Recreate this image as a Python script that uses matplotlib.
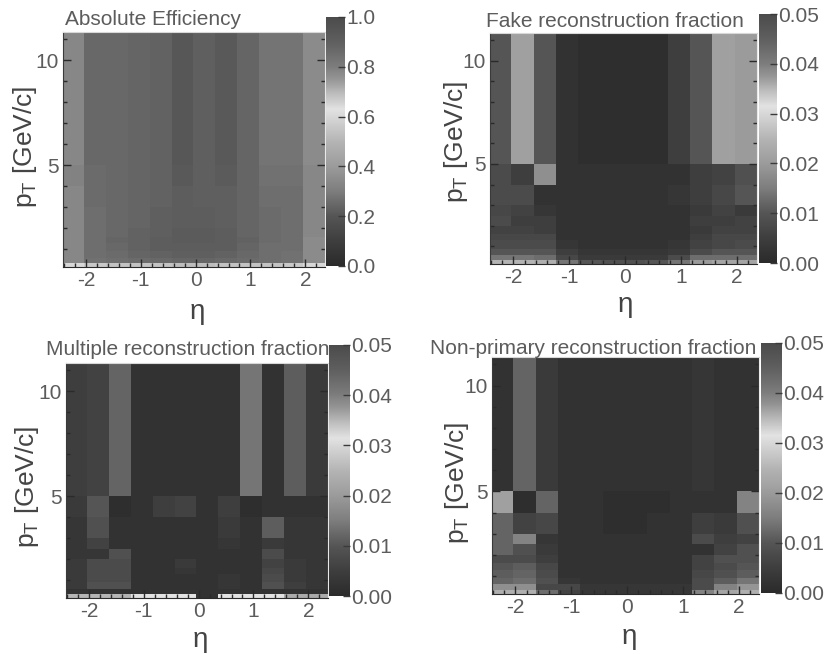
import numpy as np
import matplotlib
matplotlib.use("Agg")
import matplotlib.pyplot as plt
from matplotlib.colors import LinearSegmentedColormap
from matplotlib.ticker import MultipleLocator

plt.rcParams["font.family"] = ["Liberation Sans", "DejaVu Sans"]
plt.rcParams["mathtext.fontset"] = "custom"
plt.rcParams["mathtext.rm"] = "Liberation Sans"
plt.rcParams["mathtext.default"] = "regular"
plt.rcParams["axes.unicode_minus"] = False

W, H = 828, 654
TXT = "#5c5c5c"

# bin edges, pT runs from the top row downwards
eta_edges = [-2.44 + 0.4 * i for i in range(13)]
pt_edges = [11.35, 5, 4, 3, 2.5, 2, 1.6, 1.3, 0.9, 0.6, 0.35, 0.15]

eff = [
    [.78, .87, .87, .88, .89, .94, .90, .93, .88, .83, .83, .77],
    [.79, .86, .87, .88, .89, .93, .90, .92, .88, .84, .84, .78],
    [.78, .86, .87, .88, .89, .91, .90, .90, .88, .85, .85, .78],
    [.78, .85, .87, .88, .90, .91, .91, .90, .88, .86, .85, .78],
    [.78, .85, .87, .88, .90, .91, .91, .90, .88, .86, .85, .78],
    [.78, .85, .87, .89, .90, .92, .92, .91, .88, .86, .85, .78],
    [.78, .85, .88, .89, .91, .92, .92, .91, .89, .86, .85, .77],
    [.78, .85, .87, .89, .91, .91, .91, .91, .88, .85, .85, .77],
    [.78, .85, .86, .88, .89, .90, .90, .89, .87, .85, .84, .77],
    [.78, .84, .85, .86, .87, .88, .88, .87, .86, .85, .84, .77],
    [.60, .67, .68, .68, .68, .69, .69, .68, .68, .68, .67, .60],
]
fake = [
    [.010, .021, .010, .002, .001, .001, .001, .001, .005, .010, .021, .020],
    [.008, .005, .018, .002, .002, .002, .002, .002, .002, .005, .006, .009],
    [.008, .008, .002, .002, .002, .002, .002, .002, .003, .005, .007, .010],
    [.007, .006, .003, .002, .002, .002, .002, .002, .002, .004, .006, .004],
    [.008, .005, .005, .002, .002, .002, .002, .002, .002, .005, .005, .006],
    [.006, .006, .005, .002, .002, .002, .002, .002, .002, .004, .006, .006],
    [.007, .007, .007, .002, .002, .002, .002, .002, .002, .005, .007, .007],
    [.008, .008, .008, .003, .002, .002, .002, .002, .003, .006, .007, .008],
    [.010, .010, .010, .005, .003, .003, .003, .003, .004, .008, .010, .010],
    [.014, .014, .013, .007, .004, .004, .004, .004, .008, .013, .013, .013],
    [.025, .025, .024, .014, .010, .009, .009, .010, .014, .020, .022, .022],
]
multi = [
    [.005, .006, .012, .002, .002, .002, .002, .002, .014, .002, .011, .004],
    [.004, .010, .001, .002, .005, .006, .002, .005, .001, .002, .002, .002],
    [.003, .009, .002, .002, .002, .002, .002, .004, .002, .011, .003, .003],
    [.003, .006, .002, .002, .002, .002, .002, .003, .002, .004, .003, .003],
    [.003, .003, .009, .002, .002, .002, .002, .002, .002, .008, .003, .003],
    [.004, .008, .008, .002, .002, .004, .002, .002, .002, .006, .004, .003],
    [.004, .008, .008, .002, .002, .003, .002, .002, .002, .007, .004, .003],
    [.004, .008, .008, .002, .002, .002, .002, .003, .002, .008, .004, .003],
    [.004, .009, .009, .002, .002, .002, .002, .003, .002, .009, .005, .003],
    [.002, .002, .002, .002, .002, .002, .002, .002, .002, .002, .002, .002],
    [.025, .025, .025, .0315, .0315, .0315, .002, .0315, .0315, .0315, .023, .023],
]
nonprim = [
    [.002, .012, .004, .002, .002, .002, .002, .002, .002, .003, .002, .002],
    [.021, .001, .012, .002, .002, .001, .001, .001, .002, .002, .002, .016],
    [.012, .006, .007, .002, .002, .001, .001, .002, .002, .005, .004, .009],
    [.012, .016, .003, .002, .002, .002, .002, .002, .002, .008, .005, .006],
    [.012, .009, .004, .002, .002, .002, .002, .002, .002, .002, .006, .009],
    [.008, .008, .005, .002, .002, .002, .002, .002, .002, .006, .009, .009],
    [.010, .011, .007, .002, .002, .002, .002, .002, .002, .006, .008, .010],
    [.011, .012, .008, .002, .002, .002, .002, .002, .002, .007, .009, .011],
    [.012, .013, .009, .003, .002, .002, .002, .002, .002, .008, .011, .014],
    [.018, .018, .007, .007, .003, .003, .003, .003, .003, .008, .016, .019],
    [.024, .024, .013, .006, .003, .003, .003, .003, .003, .016, .022, .024],
]

titles = ["Absolute Efficiency", "Fake reconstruction fraction",
          "Multiple reconstruction fraction", "Non-primary reconstruction fraction"]
panels = [eff, fake, multi, nonprim]
vmaxes = [1.0, 0.05, 0.05, 0.05]
cticks = [[0, .2, .4, .6, .8, 1.0], [0, .01, .02, .03, .04, .05],
          [0, .01, .02, .03, .04, .05], [0, .01, .02, .03, .04, .05]]
cfmt = ["%.1f", "%.2f", "%.2f", "%.2f"]

# pixel boxes: left, right, top, bottom
ax_boxes = [(63, 325, 32, 267), (490, 757, 33, 264), (66, 328, 363, 598), (492, 759, 357, 594)]
cb_boxes = [(326, 345, 17, 266), (759, 777, 14, 263), (329, 350, 345, 596), (761, 782, 343, 593)]
title_pos = [(65, 25), (486, 27), (46, 355), (430, 354)]
xlab_pos = [(197, 312), (625, 305), (200, 640), (629, 637)]
ylab_pos = [(25, 147), (456, 142), (27, 487), (457, 483)]

# rainbow palette after greyscale conversion: dark at both ends, pale near 0.63
stops = [0, .1, .2, .25, .3, .4, .5, .55, .63, .69, .75, .8, .9, 1]
greys = [42, 62, 85, 105, 125, 155, 180, 198, 226, 190, 150, 125, 95, 75]
cmap = LinearSegmentedColormap.from_list(
    "grey_rainbow", [(s, (g / 255,) * 3) for s, g in zip(stops, greys)], N=512)


def box(b):
    return [b[0] / W, 1 - b[3] / H, (b[1] - b[0]) / W, (b[3] - b[2]) / H]


fig = plt.figure(figsize=(W / 100, H / 100), dpi=100)

for i in range(4):
    ax = fig.add_axes(box(ax_boxes[i]))
    m = ax.pcolormesh(eta_edges, pt_edges, np.array(panels[i]), cmap=cmap,
                      vmin=0, vmax=vmaxes[i], antialiased=False)
    ax.set_xlim(-2.42, 2.36)
    ax.set_ylim(0.15, 11.35)
    ax.xaxis.set_major_locator(MultipleLocator(1))
    ax.xaxis.set_minor_locator(MultipleLocator(0.2))
    ax.yaxis.set_major_locator(MultipleLocator(5))
    ax.yaxis.set_minor_locator(MultipleLocator(1))
    ax.tick_params(which="major", direction="in", length=6, width=1, color="#2a2a2a",
                   left=True, right=True, bottom=True, top=False,
                   labelsize=15, labelcolor=TXT, pad=3)
    ax.tick_params(which="minor", direction="in", length=3, width=1, color="#2a2a2a",
                   left=True, right=True, bottom=True, top=False)
    ax.spines["left"].set_color("#3a3a3a")
    ax.spines["bottom"].set_color("#2a2a2a")
    ax.spines["top"].set_color("#d8d8d8")
    ax.spines["right"].set_color("#e8e8e8")

    cax = fig.add_axes(box(cb_boxes[i]))
    cb = fig.colorbar(m, cax=cax, ticks=cticks[i], format=cfmt[i])
    cb.outline.set_visible(False)
    cb.ax.tick_params(direction="in", length=5, width=1, color="#3a3a3a",
                      labelsize=15, labelcolor=TXT, pad=1)

    fig.text(title_pos[i][0] / W, 1 - title_pos[i][1] / H, titles[i],
             fontsize=15, color=TXT, ha="left", va="baseline")
    fig.text(xlab_pos[i][0] / W, 1 - xlab_pos[i][1] / H, "η",
             fontsize=20, color="#444444", ha="center", va="center")
    fig.text(ylab_pos[i][0] / W, 1 - ylab_pos[i][1] / H, "$p_T$ [GeV/c]",
             fontsize=19, color="#444444", rotation=90, ha="center", va="center")

fig.savefig("out.png", dpi=100)
